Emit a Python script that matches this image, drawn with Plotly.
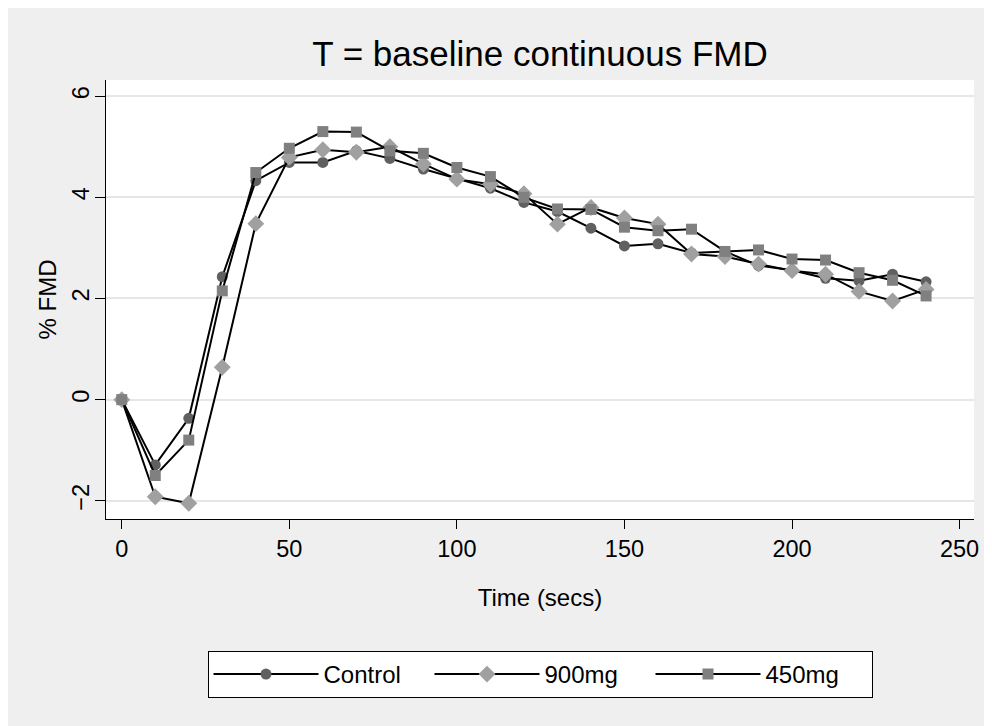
import plotly.graph_objects as go

time_secs = [0, 10, 20, 30, 40, 50, 60, 70, 80, 90, 100, 110, 120,
             130, 140, 150, 160, 170, 180, 190, 200, 210, 220, 230, 240]
control = [0, -1.29, -0.37, 2.43, 4.33, 4.69, 4.69, 4.92, 4.77, 4.56, 4.37, 4.18, 3.90,
           3.72, 3.39, 3.04, 3.08, 2.90, 2.93, 2.65, 2.56, 2.40, 2.35, 2.48, 2.33]
mg900 = [0, -1.92, -2.05, 0.64, 3.48, 4.79, 4.94, 4.89, 5.00, 4.66, 4.36, 4.26, 4.07,
         3.47, 3.80, 3.59, 3.47, 2.88, 2.83, 2.68, 2.55, 2.48, 2.14, 1.95, 2.18]
mg450 = [0, -1.50, -0.80, 2.15, 4.49, 4.97, 5.30, 5.29, 4.92, 4.87, 4.59, 4.41, 4.00,
         3.77, 3.76, 3.41, 3.34, 3.37, 2.93, 2.96, 2.78, 2.76, 2.51, 2.36, 2.05]
series_names = ["Control", "900mg", "450mg"]
x_ticks = [0, 50, 100, 150, 200, 250]
y_ticks = [-2, 0, 2, 4, 6]

FONT = "Liberation Sans, Arial, sans-serif"

styles = [
    dict(symbol="circle", size=11, color="#606060"),
    dict(symbol="diamond", size=13, color="#a0a0a0"),
    dict(symbol="square", size=11, color="#808080"),
]

fig = go.Figure()
for name, vals, st in zip(series_names, [control, mg900, mg450], styles):
    fig.add_trace(go.Scatter(
        x=time_secs, y=vals, name=name, mode="lines+markers",
        line=dict(color="black", width=2),
        marker=dict(symbol=st["symbol"], size=st["size"], color=st["color"],
                    line=dict(width=0)),
    ))

W, H = 984, 718
fig.update_layout(
    width=W, height=H,
    margin=dict(l=98, r=18, t=72, b=207, autoexpand=False),
    paper_bgcolor="#efefef", plot_bgcolor="white",
    font=dict(family=FONT, color="black", size=24),
    title=dict(text="T = baseline continuous FMD", x=0.5, xref="paper",
               y=1 - 46 / H, yref="container", yanchor="middle",
               font=dict(size=35, family=FONT, color="black")),
    showlegend=True,
    legend=dict(orientation="h", x=0.5, xanchor="center", y=(519 - 651) / 439,
                yanchor="top", bgcolor="white", bordercolor="black", borderwidth=1,
                font=dict(size=24, family=FONT), itemwidth=105,
                entrywidth=101, entrywidthmode="pixels"),
    xaxis=dict(range=[-4.7, 254.3], tickvals=x_ticks, showgrid=False, zeroline=False,
               showline=True, linecolor="black", linewidth=1,
               ticks="outside", ticklen=9, tickwidth=1, tickcolor="black",
               tickfont=dict(size=23.5),
               title=dict(text="Time (secs)", font=dict(size=24), standoff=27)),
    yaxis=dict(range=[-2.36, 6.32], tickvals=y_ticks, showgrid=True, gridcolor="#e6e6e6",
               gridwidth=2, zeroline=False, showline=True, linecolor="black", linewidth=1,
               ticks="outside", ticklen=10, tickwidth=1, tickcolor="black",
               tickangle=-90, tickfont=dict(size=23.5), ticklabelstandoff=-3,
               title=dict(text="% FMD", font=dict(size=24), standoff=4)),
)

fig.write_html("out.html")
